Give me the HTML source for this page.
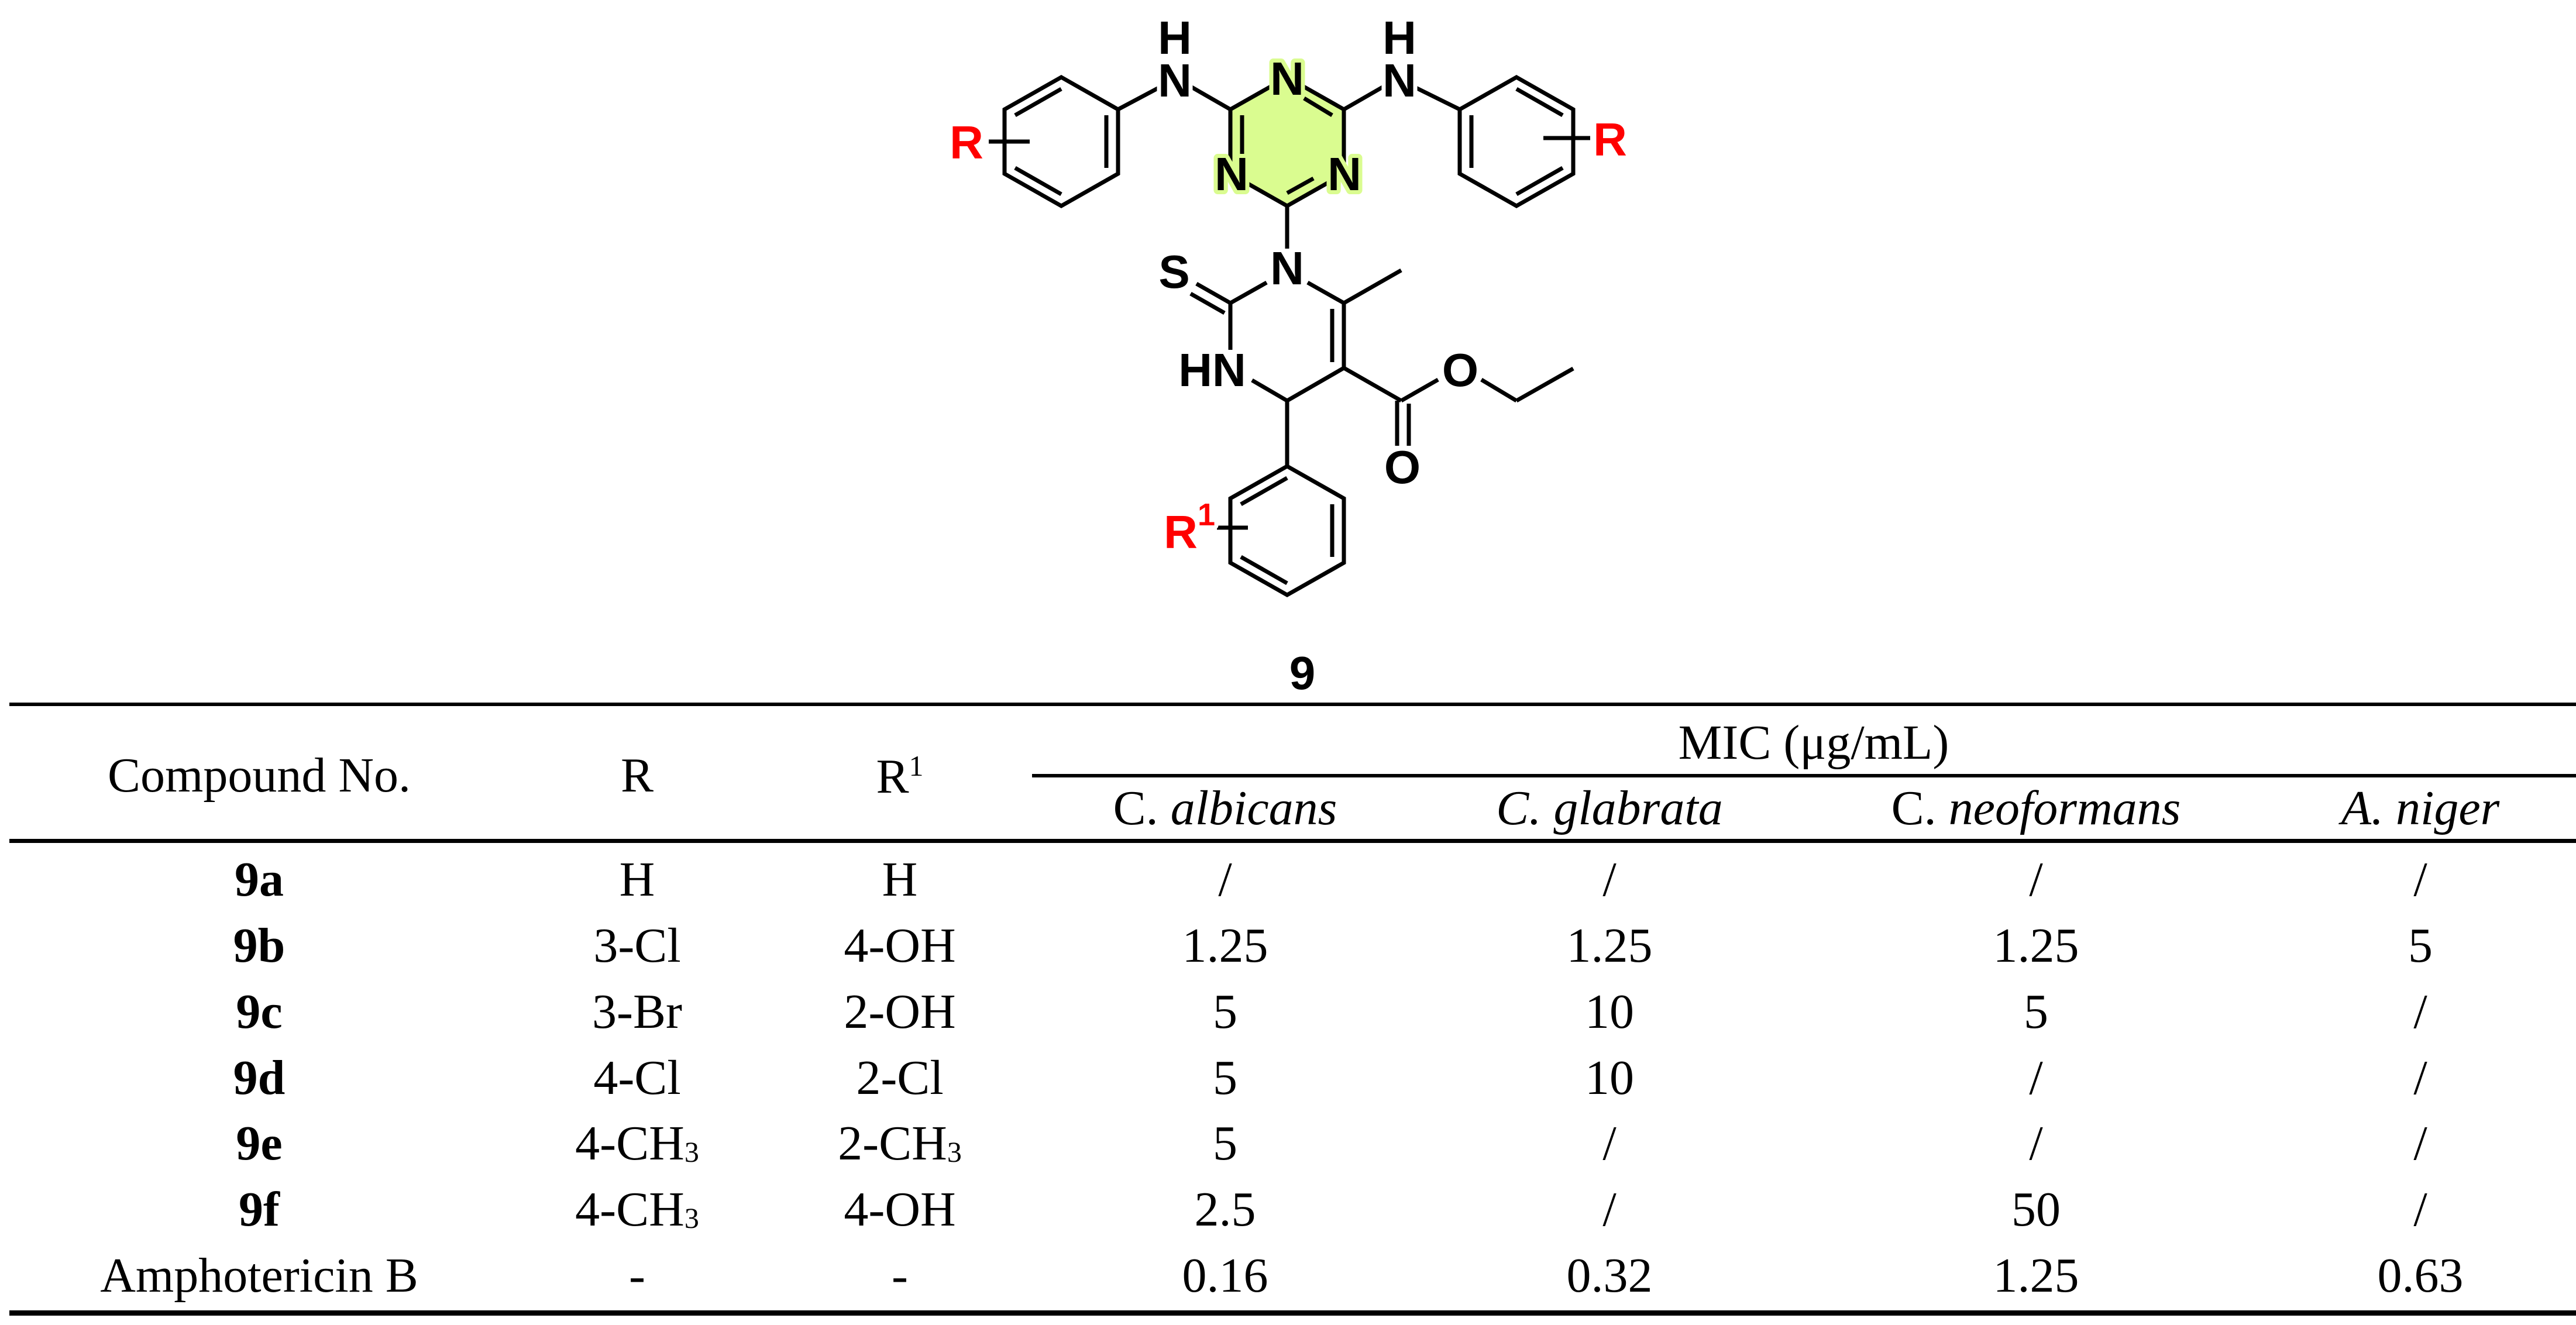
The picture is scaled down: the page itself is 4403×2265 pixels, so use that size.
<!DOCTYPE html>
<html><head><meta charset="utf-8">
<style>
html,body{margin:0;padding:0;background:#fff;}
body{width:4403px;height:2265px;position:relative;overflow:hidden;font-family:"Liberation Serif",serif;}
.t{position:absolute;font-size:84px;color:#000;white-space:nowrap;transform:translateX(-50%);line-height:1;}
.b{font-weight:bold;}
.i{font-style:italic;}
.hl{position:absolute;background:#000;}
sub,sup{font-size:50px;}
</style></head><body>
<svg width="4403" height="1200" style="position:absolute;left:0;top:0" xmlns="http://www.w3.org/2000/svg">
<g stroke="#000" stroke-width="7" fill="none" stroke-linecap="butt">
<polygon points="2200,132 2297,187 2297,297 2200,352 2103,297 2103,187" fill="#dafc90" stroke="none"/>
<polyline points="2200,132 2297,187 2297,297 2200,352 2103,297 2103,187 2200,132"/>
<line x1="2229" y1="168" x2="2277" y2="197"/>
<line x1="2123" y1="197" x2="2123" y2="287"/>
<line x1="2200" y1="330" x2="2245" y2="305"/>
<line x1="2103" y1="187" x2="2030" y2="145"/>
<line x1="1990" y1="145" x2="1911" y2="187"/>
<line x1="2297" y1="187" x2="2370" y2="145"/>
<line x1="2410" y1="145" x2="2495" y2="187"/>
<polygon points="1814,132 1911,187 1911,297 1814,352 1717,297 1717,187"/>
<line x1="1735" y1="197" x2="1814" y2="152"/>
<line x1="1891" y1="197" x2="1891" y2="287"/>
<line x1="1735" y1="287" x2="1814" y2="332"/>
<line x1="1690" y1="242" x2="1760" y2="242"/>
<polygon points="2592,132 2689,187 2689,297 2592,352 2495,297 2495,187"/>
<line x1="2515" y1="197" x2="2515" y2="287"/>
<line x1="2592" y1="152" x2="2671" y2="197"/>
<line x1="2592" y1="332" x2="2671" y2="287"/>
<line x1="2638" y1="236" x2="2718" y2="236"/>
<line x1="2200" y1="352" x2="2200" y2="425"/>
<polyline points="2165,483 2103,518 2103,598"/>
<polyline points="2235,483 2297,518 2297,629 2200,685 2140,650"/>
<line x1="2277" y1="528" x2="2277" y2="619"/>
<line x1="2103" y1="518" x2="2045" y2="485"/>
<line x1="2093" y1="535" x2="2035" y2="502"/>
<line x1="2297" y1="518" x2="2395" y2="462"/>
<line x1="2297" y1="629" x2="2395" y2="685"/>
<line x1="2395" y1="685" x2="2458" y2="649"/>
<line x1="2532" y1="649" x2="2592" y2="685"/>
<line x1="2592" y1="685" x2="2689" y2="630"/>
<line x1="2388" y1="685" x2="2388" y2="762"/>
<line x1="2408" y1="690" x2="2408" y2="762"/>
<line x1="2200" y1="685" x2="2200" y2="797"/>
<polygon points="2200,797 2297,852 2297,962 2200,1017 2103,962 2103,852"/>
<line x1="2121" y1="862" x2="2200" y2="817"/>
<line x1="2277" y1="862" x2="2277" y2="952"/>
<line x1="2121" y1="952" x2="2200" y2="997"/>
<line x1="2080" y1="902" x2="2133" y2="902"/>
</g>
<g font-family="Liberation Sans, sans-serif" font-weight="bold" font-size="80" text-anchor="middle" stroke="#fff" stroke-width="14" paint-order="stroke" stroke-linejoin="round">
<g stroke="#dafc90">
<text x="2200" y="162">N</text>
<text x="2105" y="325">N</text>
<text x="2298" y="325">N</text>
</g>
<text x="2008" y="165">N</text>
<text x="2008" y="92">H</text>
<text x="2392" y="165">N</text>
<text x="2392" y="92">H</text>
<text x="2200" y="486">N</text>
<text x="2007" y="492">S</text>
<text x="2072" y="660">HN</text>
<text x="2496" y="660">O</text>
<text x="2397" y="826">O</text>
<text x="2226" y="1178">9</text>
<g fill="#ff0000">
<text x="1652" y="271">R</text>
<text x="2752" y="266">R</text>
<text x="2018" y="937">R</text>
<text x="2062" y="898" font-size="54">1</text>
</g>
</g>
</svg>

<div class="hl" style="left:16px;top:1201px;width:4387px;height:6px"></div>
<div class="hl" style="left:1764px;top:1323px;width:2639px;height:6px"></div>
<div class="hl" style="left:16px;top:1434px;width:4387px;height:7px"></div>
<div class="hl" style="left:16px;top:2240px;width:4387px;height:9px"></div>

<div class="t" style="left:443px;top:1284px">Compound No.</div>
<div class="t" style="left:1089px;top:1284px">R</div>
<div class="t" style="left:1538px;top:1284px">R<sup>1</sup></div>
<div class="t" style="left:3100px;top:1228px">MIC (μg/mL)</div>
<div class="t" style="left:2094px;top:1340px">C. <span class="i">albicans</span></div>
<div class="t i" style="left:2751px;top:1340px">C. glabrata</div>
<div class="t" style="left:3480px;top:1340px">C. <span class="i">neoformans</span></div>
<div class="t i" style="left:4137px;top:1340px">A. niger</div>

<div class="t b" style="left:443px;top:1462px">9a</div>
<div class="t" style="left:1089px;top:1462px">H</div>
<div class="t" style="left:1538px;top:1462px">H</div>
<div class="t" style="left:2094px;top:1462px">/</div>
<div class="t" style="left:2751px;top:1462px">/</div>
<div class="t" style="left:3480px;top:1462px">/</div>
<div class="t" style="left:4137px;top:1462px">/</div>

<div class="t b" style="left:443px;top:1575px">9b</div>
<div class="t" style="left:1089px;top:1575px">3-Cl</div>
<div class="t" style="left:1538px;top:1575px">4-OH</div>
<div class="t" style="left:2094px;top:1575px">1.25</div>
<div class="t" style="left:2751px;top:1575px">1.25</div>
<div class="t" style="left:3480px;top:1575px">1.25</div>
<div class="t" style="left:4137px;top:1575px">5</div>

<div class="t b" style="left:443px;top:1688px">9c</div>
<div class="t" style="left:1089px;top:1688px">3-Br</div>
<div class="t" style="left:1538px;top:1688px">2-OH</div>
<div class="t" style="left:2094px;top:1688px">5</div>
<div class="t" style="left:2751px;top:1688px">10</div>
<div class="t" style="left:3480px;top:1688px">5</div>
<div class="t" style="left:4137px;top:1688px">/</div>

<div class="t b" style="left:443px;top:1801px">9d</div>
<div class="t" style="left:1089px;top:1801px">4-Cl</div>
<div class="t" style="left:1538px;top:1801px">2-Cl</div>
<div class="t" style="left:2094px;top:1801px">5</div>
<div class="t" style="left:2751px;top:1801px">10</div>
<div class="t" style="left:3480px;top:1801px">/</div>
<div class="t" style="left:4137px;top:1801px">/</div>

<div class="t b" style="left:443px;top:1913px">9e</div>
<div class="t" style="left:1089px;top:1913px">4-CH<sub style="vertical-align:-4px">3</sub></div>
<div class="t" style="left:1538px;top:1913px">2-CH<sub style="vertical-align:-4px">3</sub></div>
<div class="t" style="left:2094px;top:1913px">5</div>
<div class="t" style="left:2751px;top:1913px">/</div>
<div class="t" style="left:3480px;top:1913px">/</div>
<div class="t" style="left:4137px;top:1913px">/</div>

<div class="t b" style="left:443px;top:2026px">9f</div>
<div class="t" style="left:1089px;top:2026px">4-CH<sub style="vertical-align:-4px">3</sub></div>
<div class="t" style="left:1538px;top:2026px">4-OH</div>
<div class="t" style="left:2094px;top:2026px">2.5</div>
<div class="t" style="left:2751px;top:2026px">/</div>
<div class="t" style="left:3480px;top:2026px">50</div>
<div class="t" style="left:4137px;top:2026px">/</div>

<div class="t" style="left:443px;top:2139px">Amphotericin B</div>
<div class="t" style="left:1089px;top:2139px">-</div>
<div class="t" style="left:1538px;top:2139px">-</div>
<div class="t" style="left:2094px;top:2139px">0.16</div>
<div class="t" style="left:2751px;top:2139px">0.32</div>
<div class="t" style="left:3480px;top:2139px">1.25</div>
<div class="t" style="left:4137px;top:2139px">0.63</div>
</body></html>
